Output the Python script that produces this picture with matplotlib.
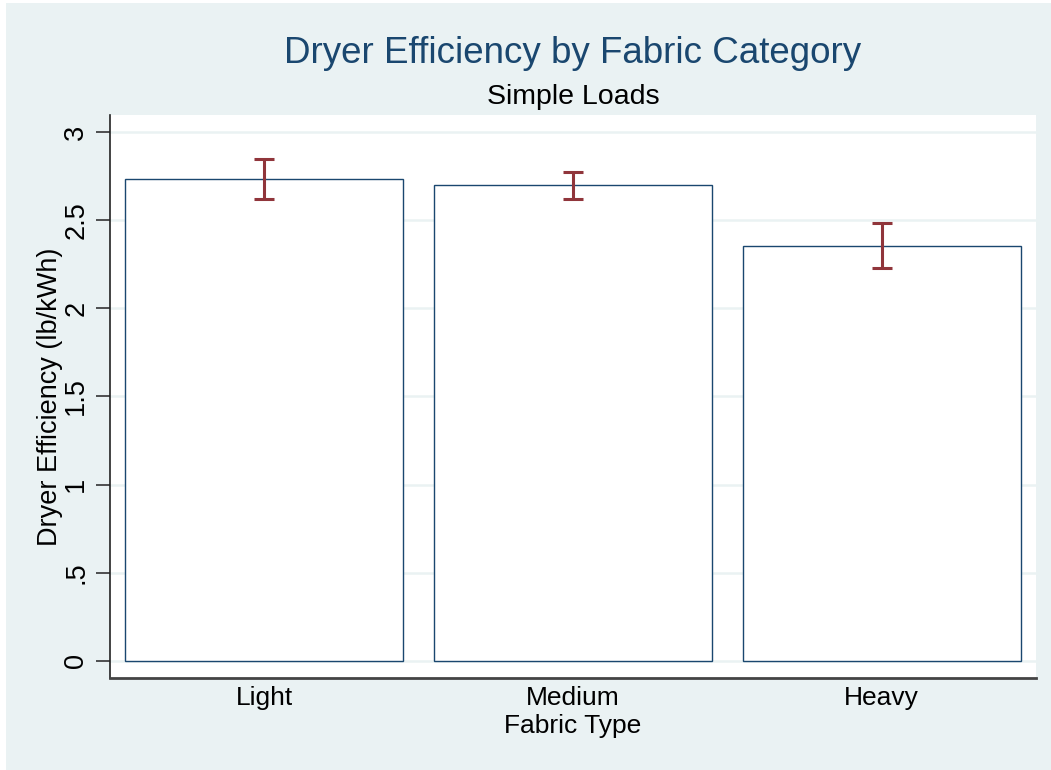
import numpy as np
import matplotlib.pyplot as plt
from matplotlib.patches import Rectangle

# data
fabric = ['Light', 'Medium', 'Heavy']
efficiency = [2.733, 2.699, 2.352]
ci_low = [2.621, 2.619, 2.226]
ci_high = [2.847, 2.773, 2.481]
yticks = [0, 0.5, 1, 1.5, 2, 2.5, 3]
ytick_labels = ['0', '.5', '1', '1.5', '2', '2.5', '3']

plt.rcParams['font.family'] = ['Liberation Sans', 'DejaVu Sans']

bg = '#EAF2F3'
navy = '#1A476F'
cranberry = '#90353B'

fig = plt.figure(figsize=(10.51, 7.70), dpi=100)
fig.patch.set_facecolor('white')
# stata-like outer panel
fig.patches.append(Rectangle((6 / 1051, 0), 1, 1 - 3 / 770, transform=fig.transFigure,
                             facecolor=bg, edgecolor='none', zorder=-10))

ax = fig.add_axes([110 / 1051, 1 - 678 / 770, (1036 - 110) / 1051, (678 - 115.5) / 770])
ax.set_facecolor('white')

x = np.arange(len(fabric))
ax.bar(x, efficiency, width=0.9, color='white', edgecolor=navy, linewidth=1.0, zorder=2)
yerr = [np.array(efficiency) - np.array(ci_low), np.array(ci_high) - np.array(efficiency)]
ax.errorbar(x, efficiency, yerr=yerr, fmt='none', ecolor=cranberry, elinewidth=2.2,
            capsize=7, capthick=2.2, zorder=3)

ax.set_xlim(-0.5, 2.5)
ax.set_ylim(-0.097, 3.093)
ax.set_yticks(yticks)
ax.set_yticklabels(ytick_labels, rotation=90, va='center', fontsize=19.5)
ax.set_xticks(x)
ax.set_xticklabels(fabric, fontsize=19)
ax.tick_params(axis='x', length=0, pad=6)
ax.tick_params(axis='y', length=10, width=1.2, color='#333333', pad=5)
ax.yaxis.grid(True, color=bg, linewidth=1.8, zorder=0)
ax.set_axisbelow(True)

for s in ['top', 'right']:
    ax.spines[s].set_visible(False)
ax.spines['left'].set_color('#222222')
ax.spines['left'].set_linewidth(1.2)
ax.spines['bottom'].set_color('#444444')
ax.spines['bottom'].set_linewidth(2)

ax.set_ylabel('Dryer Efficiency (lb/kWh)', fontsize=19.5, labelpad=0)
ax.set_xlabel('Fabric Type', fontsize=19, labelpad=3)

cx = (110 + 1036) / 2 / 1051
fig.text(cx, 1 - 63 / 770, 'Dryer Efficiency by Fabric Category', ha='center', va='baseline',
         fontsize=26.5, color=navy)
fig.text(cx, 1 - 104 / 770, 'Simple Loads', ha='center', va='baseline', fontsize=20.5,
         color='black')

fig.savefig('out.png', dpi=100, facecolor=fig.get_facecolor())
